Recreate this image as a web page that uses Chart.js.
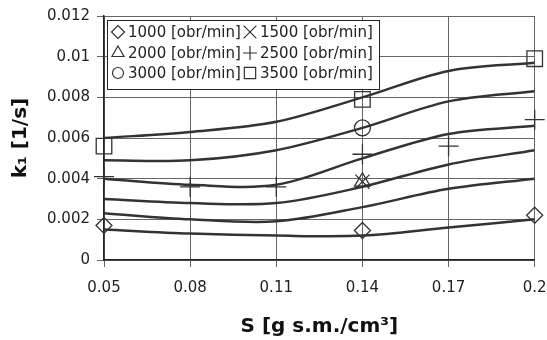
<!DOCTYPE html>
<html>
<head>
<meta charset="utf-8">
<script src="https://cdn.jsdelivr.net/npm/chart.js@4"></script>
<style>
	body { margin: 0; background: #fff; }
	canvas { display: block; }
</style>
</head>
<body>
<canvas id="chart" width="547" height="340"></canvas>
<script>
// S [g s.m./cm3] positions
const sValues = [0.05, 0.08, 0.11, 0.14, 0.17, 0.2];

// smoothed trend curves, one per rotation speed
const curve1000 = [0.0015, 0.0013, 0.0012, 0.0012, 0.0016, 0.0020];
const curve1500 = [0.0023, 0.0020, 0.0019, 0.0026, 0.0035, 0.0040];
const curve2000 = [0.0030, 0.0028, 0.0028, 0.0036, 0.0047, 0.0054];
const curve2500 = [0.0040, 0.0037, 0.0037, 0.0050, 0.0062, 0.0066];
const curve3000 = [0.0049, 0.0049, 0.0054, 0.0065, 0.0078, 0.0083];
const curve3500 = [0.0060, 0.0063, 0.0068, 0.0080, 0.0093, 0.0097];

// measured points
const pts1000S = [0.05, 0.14, 0.2];
const pts1000K = [0.0017, 0.00145, 0.0022];
const pts1500S = [0.14];
const pts1500K = [0.00385];
const pts2000S = [0.14];
const pts2000K = [0.00385];
const pts2500S = [0.05, 0.08, 0.11, 0.14, 0.17, 0.2];
const pts2500K = [0.0041, 0.0036, 0.0036, 0.0052, 0.0056, 0.0069];
const pts3000S = [0.14];
const pts3000K = [0.0065];
const pts3500S = [0.05, 0.14, 0.2];
const pts3500K = [0.0056, 0.0079, 0.0099];

const yTicks = [0, 0.002, 0.004, 0.006, 0.008, 0.01, 0.012];
const legendLabels = ['1000 [obr/min]', '1500 [obr/min]', '2000 [obr/min]', '2500 [obr/min]', '3000 [obr/min]', '3500 [obr/min]'];

const ink = '#333';
const font = 'DejaVu Sans';

const zip = (xs, ys) => xs.map((x, i) => ({ x, y: ys[i] }));

const curveSet = data => ({
	type: 'line',
	data: zip(sValues, data),
	borderColor: ink,
	borderWidth: 2.5,
	tension: 0.33,
	pointRadius: 0,
	fill: false,
	order: 2
});
const markerSet = (xs, ys, style, radius) => ({
	type: 'line',
	data: zip(xs, ys),
	showLine: false,
	pointStyle: style,
	pointRadius: radius,
	pointBorderColor: ink,
	pointBackgroundColor: 'rgba(0,0,0,0)',
	pointBorderWidth: 1.3,
	clip: false,
	order: 1
});

// marker styles in legend order
const legendMarks = [
	{ pointStyle: 'rectRot', radius: 6.5 },
	{ pointStyle: 'crossRot', radius: 9 },
	{ pointStyle: 'triangle', radius: 7 },
	{ pointStyle: 'cross', radius: 7 },
	{ pointStyle: 'circle', radius: 5.5 },
	{ pointStyle: 'rect', radius: 8 }
];

const boxLegend = {
	id: 'boxLegend',
	afterDraw(chart) {
		const ctx = chart.ctx;
		const left = 107, top = 20, w = 272, h = 69;
		ctx.save();
		ctx.fillStyle = '#fff';
		ctx.fillRect(left, top, w, h);
		ctx.strokeStyle = '#222';
		ctx.lineWidth = 1;
		ctx.strokeRect(left + 0.5, top + 0.5, w, h);
		ctx.font = `15px "${font}"`;
		ctx.textBaseline = 'middle';
		const rows = [32, 53, 73];
		const cols = [{ mark: 118, text: 128 }, { mark: 250, text: 260 }];
		legendLabels.forEach((label, i) => {
			const r = rows[Math.floor(i / 2)];
			const c = cols[i % 2];
			ctx.strokeStyle = ink;
			ctx.fillStyle = 'rgba(0,0,0,0)';
			ctx.lineWidth = 1.2;
			Chart.helpers.drawPoint(ctx, {
				pointStyle: legendMarks[i].pointStyle,
				radius: legendMarks[i].radius,
				rotation: 0,
				borderWidth: 1.2
			}, c.mark, r);
			ctx.fillStyle = '#222';
			ctx.fillText(label, c.text, r + 1);
		});
		ctx.restore();
	}
};

new Chart(document.getElementById('chart'), {
	data: {
		datasets: [
			curveSet(curve1000),
			curveSet(curve1500),
			curveSet(curve2000),
			curveSet(curve2500),
			curveSet(curve3000),
			curveSet(curve3500),
			markerSet(pts1000S, pts1000K, 'rectRot', 8),
			markerSet(pts1500S, pts1500K, 'crossRot', 10),
			markerSet(pts2000S, pts2000K, 'triangle', 9),
			markerSet(pts2500S, pts2500K, 'cross', 10),
			markerSet(pts3000S, pts3000K, 'circle', 8),
			markerSet(pts3500S, pts3500K, 'rect', 11)
		]
	},
	options: {
		responsive: false,
		animation: false,
		layout: { padding: { left: 0, top: 16, right: 0, bottom: 0 } },
		plugins: {
			legend: { display: false },
			tooltip: { enabled: false }
		},
		scales: {
			x: {
				type: 'linear',
				min: 0.05,
				max: 0.2,
				afterBuildTicks: axis => { axis.ticks = sValues.map(v => ({ value: v })); },
				afterFit: scale => {
					scale.height = 80;
					scale.paddingLeft = 0;
					scale.paddingRight = 12;
				},
				ticks: {
					color: '#222',
					font: { family: font, size: 15 },
					padding: 12,
					maxRotation: 0,
					callback: v => String(Number(v.toFixed(2)))
				},
				grid: { color: '#666', lineWidth: 1, tickLength: 7 },
				border: { color: '#222', width: 1.5 },
				title: {
					display: true,
					text: 'S [g s.m./cm³]',
					color: '#111',
					font: { family: font, size: 20, weight: 'bold' },
					padding: { top: 0, bottom: 1 }
				}
			},
			y: {
				min: 0,
				max: 0.012,
				afterBuildTicks: axis => { axis.ticks = yTicks.map(v => ({ value: v })); },
				afterFit: scale => {
					scale.width = 104;
					scale.paddingTop = 0;
					scale.paddingBottom = 0;
				},
				ticks: {
					color: '#222',
					font: { family: font, size: 15 },
					padding: 7,
					callback: v => String(Number(v.toFixed(3)))
				},
				grid: { color: '#666', lineWidth: 1, tickLength: 7 },
				border: { color: '#222', width: 1.5 },
				title: {
					display: true,
					text: 'k₁ [1/s]',
					color: '#111',
					font: { family: font, size: 20, weight: 'bold' },
					padding: { top: 9, bottom: 0 }
				}
			}
		}
	},
	plugins: [boxLegend]
});
</script>
</body>
</html>
